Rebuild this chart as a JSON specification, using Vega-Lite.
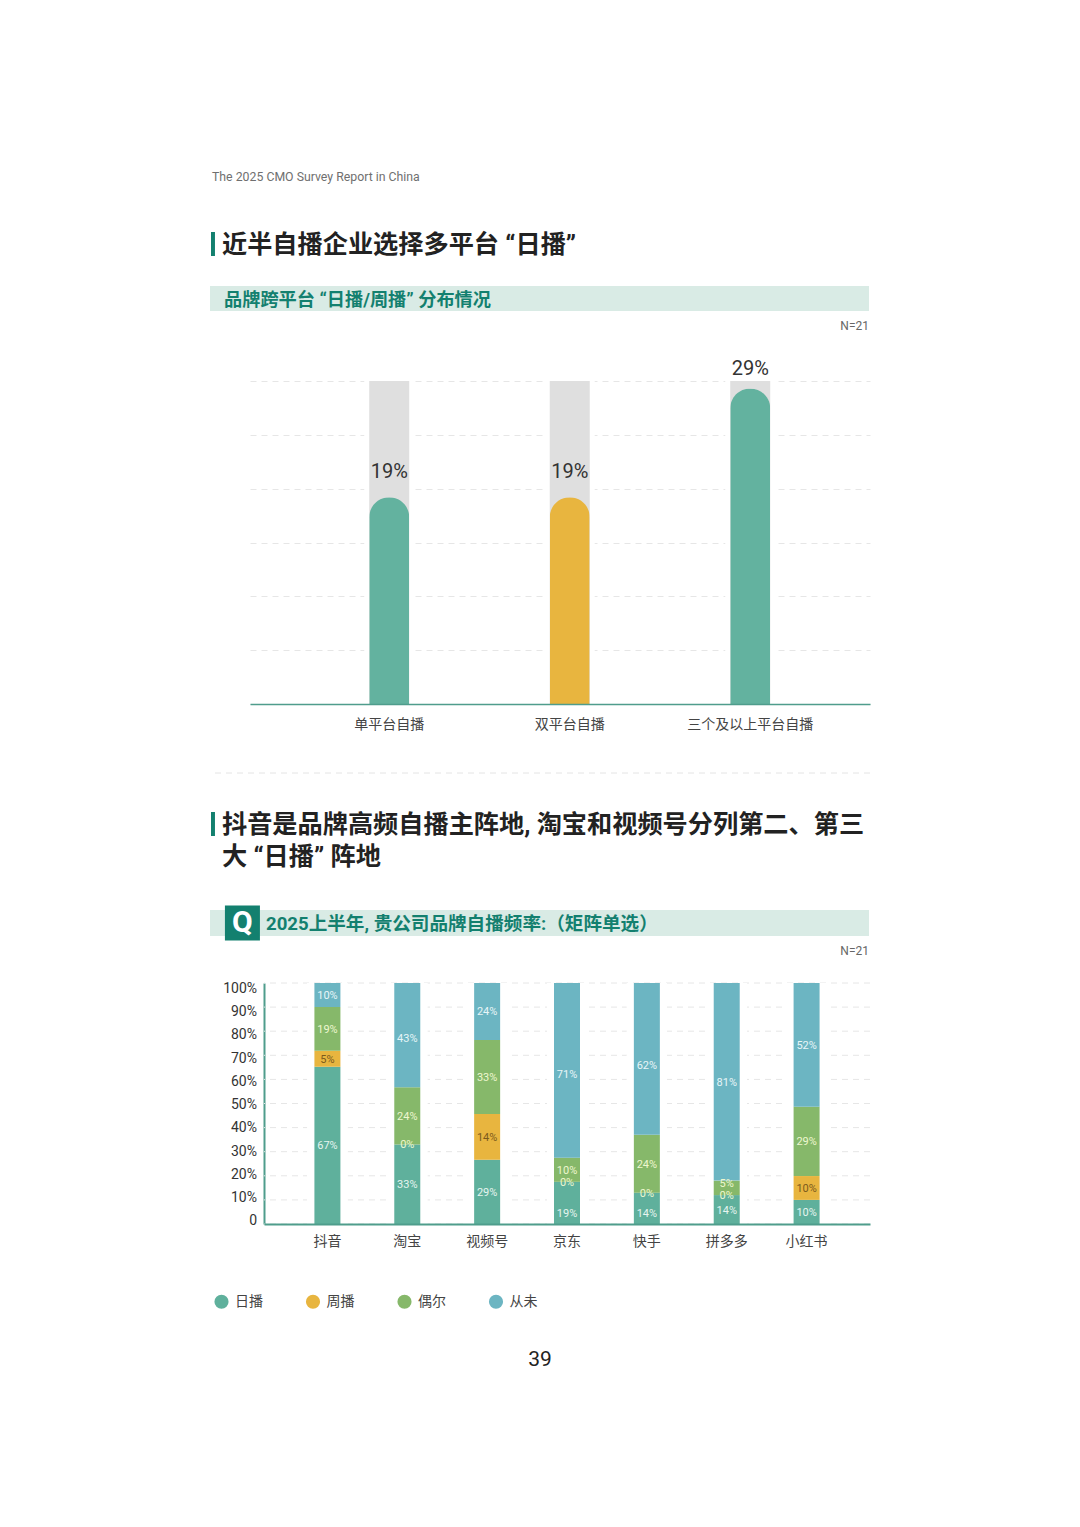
{
  "$schema": "https://vega.github.io/schema/vega-lite/v5.json",
  "background": "#ffffff",
  "padding": {"left": 209, "top": 160, "right": 0, "bottom": 0},
  "spacing": 0,
  "bounds": "flush",
  "config": {
    "view": {"stroke": null},
    "font": "Roboto, 'Noto Sans CJK SC'",
    "text": {"font": "Roboto, 'Noto Sans CJK SC'"}
  },
  "datasets": {
    "platforms": [
      {"platform": "单平台自播", "value": 19.2, "label": "19%", "kind": "a"},
      {"platform": "双平台自播", "value": 19.2, "label": "19%", "kind": "b"},
      {"platform": "三个及以上平台自播", "value": 29.3, "label": "29%", "kind": "a"}
    ],
    "ticks": [
      {"tick": 0, "label": "0"},
      {"tick": 10, "label": "10%"},
      {"tick": 20, "label": "20%"},
      {"tick": 30, "label": "30%"},
      {"tick": 40, "label": "40%"},
      {"tick": 50, "label": "50%"},
      {"tick": 60, "label": "60%"},
      {"tick": 70, "label": "70%"},
      {"tick": 80, "label": "80%"},
      {"tick": 90, "label": "90%"},
      {"tick": 100, "label": "100%"}
    ],
    "freq": [
      {"app": "抖音", "series": "日播", "rank": 1, "value": 65.3, "label": "67%"},
      {"app": "抖音", "series": "周播", "rank": 2, "value": 6.6, "label": "5%"},
      {"app": "抖音", "series": "偶尔", "rank": 3, "value": 18.1, "label": "19%"},
      {"app": "抖音", "series": "从未", "rank": 4, "value": 10, "label": "10%"},
      {"app": "淘宝", "series": "日播", "rank": 1, "value": 33, "label": "33%"},
      {"app": "淘宝", "series": "周播", "rank": 2, "value": 0, "label": "0%"},
      {"app": "淘宝", "series": "偶尔", "rank": 3, "value": 23.7, "label": "24%"},
      {"app": "淘宝", "series": "从未", "rank": 4, "value": 43.3, "label": "43%"},
      {"app": "视频号", "series": "日播", "rank": 1, "value": 26.7, "label": "29%"},
      {"app": "视频号", "series": "周播", "rank": 2, "value": 18.9, "label": "14%"},
      {"app": "视频号", "series": "偶尔", "rank": 3, "value": 30.8, "label": "33%"},
      {"app": "视频号", "series": "从未", "rank": 4, "value": 23.6, "label": "24%"},
      {"app": "京东", "series": "日播", "rank": 1, "value": 17.5, "label": "19%"},
      {"app": "京东", "series": "周播", "rank": 2, "value": 0, "label": "0%"},
      {"app": "京东", "series": "偶尔", "rank": 3, "value": 10, "label": "10%"},
      {"app": "京东", "series": "从未", "rank": 4, "value": 72.5, "label": "71%"},
      {"app": "快手", "series": "日播", "rank": 1, "value": 13, "label": "14%"},
      {"app": "快手", "series": "周播", "rank": 2, "value": 0, "label": "0%"},
      {"app": "快手", "series": "偶尔", "rank": 3, "value": 24, "label": "24%"},
      {"app": "快手", "series": "从未", "rank": 4, "value": 63, "label": "62%"},
      {"app": "拼多多", "series": "日播", "rank": 1, "value": 12, "label": "14%"},
      {"app": "拼多多", "series": "周播", "rank": 2, "value": 0, "label": "0%"},
      {"app": "拼多多", "series": "偶尔", "rank": 3, "value": 6, "label": "5%"},
      {"app": "拼多多", "series": "从未", "rank": 4, "value": 82, "label": "81%"},
      {"app": "小红书", "series": "日播", "rank": 1, "value": 10, "label": "10%"},
      {"app": "小红书", "series": "周播", "rank": 2, "value": 9.9, "label": "10%"},
      {"app": "小红书", "series": "偶尔", "rank": 3, "value": 28.7, "label": "29%"},
      {"app": "小红书", "series": "从未", "rank": 4, "value": 51.4, "label": "52%"}
    ]
  },
  "vconcat": [
    {
      "height": 34, "width": 660,
      "data": {"values": [{"t": "The 2025 CMO Survey Report in China"}]},
      "mark": {"type": "text", "align": "left", "dx": 2, "fontSize": 12.3, "color": "#6f6f6f"},
      "encoding": {
        "x": {"datum": 0, "type": "quantitative", "scale": {"domain": [0, 1]}, "axis": null},
        "text": {"field": "t"}
      }
    },
    {"height": 38, "width": 660, "data": {"values": []}, "mark": "text", "encoding": {}},
    {
      "height": 24, "width": 660,
      "data": {"values": [{"t": "近半自播企业选择多平台 “日播”"}]},
      "encoding": {
        "x": {"datum": 0.0045, "type": "quantitative", "scale": {"domain": [0, 1]}, "axis": null}
      },
      "layer": [
        {"mark": {"type": "rule", "strokeWidth": 4, "color": "#13806f"}},
        {
          "mark": {"type": "text", "align": "left", "dx": 9, "dy": 1, "fontSize": 25.2, "fontWeight": "bold", "color": "#222222"},
          "encoding": {"text": {"field": "t"}}
        }
      ]
    },
    {"height": 30, "width": 660, "data": {"values": []}, "mark": "text", "encoding": {}},
    {
      "height": 25, "width": 659,
      "view": {"fill": "#d9ebe5", "stroke": null},
      "data": {"values": [{"t": "品牌跨平台 “日播/周播” 分布情况"}]},
      "mark": {"type": "text", "align": "left", "dx": 14, "dy": 2, "fontSize": 18.2, "fontWeight": "bold", "color": "#13806f"},
      "encoding": {
        "x": {"datum": 0, "type": "quantitative", "scale": {"domain": [0, 1]}, "axis": null},
        "text": {"field": "t"}
      }
    },
    {
      "height": 28, "width": 659,
      "data": {"values": [{"t": "N=21"}]},
      "mark": {"type": "text", "align": "right", "dy": 1, "fontSize": 12, "color": "#666666"},
      "encoding": {
        "x": {"datum": 1, "type": "quantitative", "scale": {"domain": [0, 1]}, "axis": null},
        "text": {"field": "t"}
      }
    },
    {"height": 42, "width": 660, "data": {"values": []}, "mark": "text", "encoding": {}},
    {
      "hconcat": [
        {"width": 40, "height": 323, "data": {"values": []}, "mark": "text", "encoding": {}},
        {
          "width": 620, "height": 323,
          "data": {"name": "platforms"},
          "encoding": {
            "x": {
              "field": "platform", "type": "nominal", "sort": null,
              "scale": {"paddingInner": 0, "paddingOuter": 0.2175, "align": 0.624},
              "axis": {
                "title": null, "labelAngle": 0, "labelFontSize": 14, "labelColor": "#444444",
                "labelPadding": 13, "ticks": false, "domainColor": "#4f9d8c", "domainWidth": 1.5, "labelLimit": 200, "zindex": 1
              }
            }
          },
          "layer": [
            {
              "mark": {"type": "bar", "width": 50, "color": "#ffffff"},
              "encoding": {
                "y": {
                  "datum": 30, "type": "quantitative", "scale": {"domain": [0, 30]},
                  "axis": {
                    "title": null, "labels": false, "ticks": false, "domain": false, "tickCount": 6,
                    "grid": true, "gridColor": "#e6e6e6", "gridDash": [6, 5], "gridWidth": 1
                  }
                }
              }
            },
            {
              "mark": {"type": "bar", "width": 40, "color": "#dfdfdf"},
              "encoding": {"y": {"datum": 30, "type": "quantitative"}}
            },
            {
              "mark": {"type": "bar", "width": 40, "cornerRadiusTopLeft": 20, "cornerRadiusTopRight": 20},
              "encoding": {
                "y": {"field": "value", "type": "quantitative"},
                "color": {"field": "kind", "type": "nominal", "legend": null, "scale": {"domain": ["a", "b"], "range": ["#63b29f", "#e8b53f"]}}
              }
            },
            {
              "mark": {"type": "text", "baseline": "bottom", "dy": {"expr": "datum.value > 25 ? -10 : -15"}, "fontSize": 20, "color": "#333333"},
              "encoding": {
                "y": {"field": "value", "type": "quantitative"},
                "text": {"field": "label"}
              }
            }
          ]
        }
      ],
      "spacing": 0,
      "bounds": "flush"
    },
    {"height": 392, "width": 660, "data": {"values": []}, "mark": "text", "encoding": {}},
    {
      "height": 1, "width": 660,
      "data": {"values": [{"t": "separator"}]},
      "mark": {"type": "rule", "color": "#e4e4e4", "strokeDash": [6, 5], "strokeWidth": 1},
      "encoding": {"y": {"datum": 0, "type": "quantitative", "axis": null}}
    },
    {"height": 38, "width": 660, "data": {"values": []}, "mark": "text", "encoding": {}},
    {
      "height": 24, "width": 660,
      "data": {"values": [{"t": "抖音是品牌高频自播主阵地, 淘宝和视频号分列第二、第三"}]},
      "encoding": {
        "x": {"datum": 0.0045, "type": "quantitative", "scale": {"domain": [0, 1]}, "axis": null}
      },
      "layer": [
        {"mark": {"type": "rule", "strokeWidth": 4, "color": "#13806f"}},
        {
          "mark": {"type": "text", "align": "left", "dx": 9, "dy": 1, "fontSize": 25.2, "fontWeight": "bold", "color": "#222222"},
          "encoding": {"text": {"field": "t"}}
        }
      ]
    },
    {"height": 8, "width": 660, "data": {"values": []}, "mark": "text", "encoding": {}},
    {
      "height": 24, "width": 660,
      "data": {"values": [{"t": "大 “日播” 阵地"}]},
      "mark": {"type": "text", "align": "left", "dx": 9, "dy": 1, "fontSize": 25.2, "fontWeight": "bold", "color": "#222222"},
      "encoding": {
        "x": {"datum": 0.0045, "type": "quantitative", "scale": {"domain": [0, 1]}, "axis": null},
        "text": {"field": "t"}
      }
    },
    {"height": 42, "width": 660, "data": {"values": []}, "mark": "text", "encoding": {}},
    {
      "height": 26, "width": 659,
      "view": {"fill": "#d9ebe5", "stroke": null},
      "data": {"values": [{"t": "2025上半年, 贵公司品牌自播频率:（矩阵单选）", "q": "Q"}]},
      "layer": [
        {
          "mark": {"type": "point", "shape": "square", "filled": true, "size": 1225, "opacity": 1, "color": "#13806f"},
          "encoding": {"x": {"datum": 0.0492, "type": "quantitative", "scale": {"domain": [0, 1]}, "axis": null}}
        },
        {
          "mark": {"type": "text", "fontSize": 30, "fontWeight": "bold", "color": "#ffffff"},
          "encoding": {
            "x": {"datum": 0.0492, "type": "quantitative"},
            "text": {"field": "q"}
          }
        },
        {
          "mark": {"type": "text", "align": "left", "dx": 56, "dy": 1, "fontSize": 18.6, "fontWeight": "bold", "color": "#13806f"},
          "encoding": {
            "x": {"datum": 0, "type": "quantitative"},
            "text": {"field": "t"}
          }
        }
      ]
    },
    {
      "height": 28, "width": 659,
      "data": {"values": [{"t": "N=21"}]},
      "mark": {"type": "text", "align": "right", "dy": 1, "fontSize": 12, "color": "#666666"},
      "encoding": {
        "x": {"datum": 1, "type": "quantitative", "scale": {"domain": [0, 1]}, "axis": null},
        "text": {"field": "t"}
      }
    },
    {"height": 19, "width": 660, "data": {"values": []}, "mark": "text", "encoding": {}},
    {
      "hconcat": [
        {
          "width": 54, "height": 241,
          "data": {"name": "ticks"},
          "mark": {
            "type": "text", "align": "right", "dx": -7, "fontSize": 14, "color": "#333333",
            "dy": {"expr": "(datum.tick - 50) * 0.085 + 1.5"}
          },
          "encoding": {
            "x": {"datum": 1, "type": "quantitative", "scale": {"domain": [0, 1]}, "axis": null},
            "y": {"field": "tick", "type": "quantitative", "scale": {"domain": [0, 100]}, "axis": null},
            "text": {"field": "label"}
          }
        },
        {
          "width": 606, "height": 241,
          "layer": [
            {
              "data": {"name": "ticks"},
              "mark": {"type": "rule", "color": "#e6e6e6", "strokeDash": [6, 5], "strokeWidth": 1},
              "encoding": {
                "y": {
                  "field": "tick", "type": "quantitative", "scale": {"domain": [0, 100]},
                  "axis": {"title": null, "labels": false, "ticks": false, "grid": false, "domainColor": "#4f9d8c", "domainWidth": 2}
                }
              }
            },
            {
              "data": {"name": "freq"},
              "mark": {"type": "bar", "width": 40, "color": "#ffffff"},
              "encoding": {
                "x": {
                  "field": "app", "type": "nominal", "sort": null,
                  "scale": {"paddingInner": 0, "paddingOuter": 0.294},
                  "axis": {
                    "title": null, "labelAngle": 0, "labelFontSize": 14, "labelColor": "#444444",
                    "labelPadding": 10, "ticks": false, "domainColor": "#4f9d8c", "domainWidth": 2, "zindex": 1
                  }
                },
                "y": {"datum": 100, "type": "quantitative"}
              }
            },
            {
              "data": {"name": "freq"},
              "mark": {"type": "bar", "width": 26},
              "encoding": {
                "x": {"field": "app", "type": "nominal", "sort": null},
                "y": {"field": "value", "type": "quantitative", "stack": "zero"},
                "order": {"field": "rank", "type": "quantitative"},
                "color": {
                  "field": "series", "type": "nominal",
                  "scale": {"domain": ["日播", "周播", "偶尔", "从未"], "range": ["#5fb09c", "#e8b53f", "#86b86a", "#6cb5c2"]},
                  "legend": {
                    "orient": "none", "legendX": -50, "legendY": 311, "direction": "horizontal", "columns": 4,
                    "title": null, "symbolType": "circle", "symbolSize": 200, "symbolStrokeWidth": 0,
                    "labelFontSize": 14, "labelColor": "#444444", "labelOffset": 6, "columnPadding": 42.5
                  }
                }
              }
            },
            {
              "data": {"name": "freq"},
              "mark": {
                "type": "text", "fontSize": 11,
                "dy": {"expr": "datum.series == '日播' && datum.app == '京东' ? 11 : datum.series == '日播' && datum.app == '快手' ? 6 : datum.series == '偶尔' && datum.app == '拼多多' ? -4 : datum.series == '从未' && datum.app == '快手' ? 7 : datum.series == '从未' && datum.app == '京东' ? 5 : datum.series == '从未' && datum.app == '淘宝' ? 4 : 1"}
              },
              "encoding": {
                "x": {"field": "app", "type": "nominal", "sort": null},
                "y": {"field": "value", "type": "quantitative", "stack": "zero", "bandPosition": 0.5},
                "order": {"field": "rank", "type": "quantitative"},
                "text": {"field": "label"},
                "color": {
                  "condition": {"test": "datum.value == 0", "value": "#eef7cf"},
                  "field": "series", "type": "nominal", "legend": null,
                  "scale": {"domain": ["日播", "周播", "偶尔", "从未"], "range": ["#e6f5f0", "#7b5a1c", "#eef7cf", "#e8f6f8"]}
                }
              }
            }
          ],
          "resolve": {"scale": {"color": "independent"}}
        }
      ],
      "spacing": 0,
      "bounds": "flush"
    },
    {"height": 362, "width": 660, "data": {"values": []}, "mark": "text", "encoding": {}},
    {
      "height": 28, "width": 660,
      "data": {"values": [{"t": "39"}]},
      "mark": {"type": "text", "dy": 1, "fontSize": 21, "color": "#222222"},
      "encoding": {
        "x": {"datum": 0.5, "type": "quantitative", "scale": {"domain": [0, 1]}, "axis": null},
        "text": {"field": "t"}
      }
    }
  ]
}
